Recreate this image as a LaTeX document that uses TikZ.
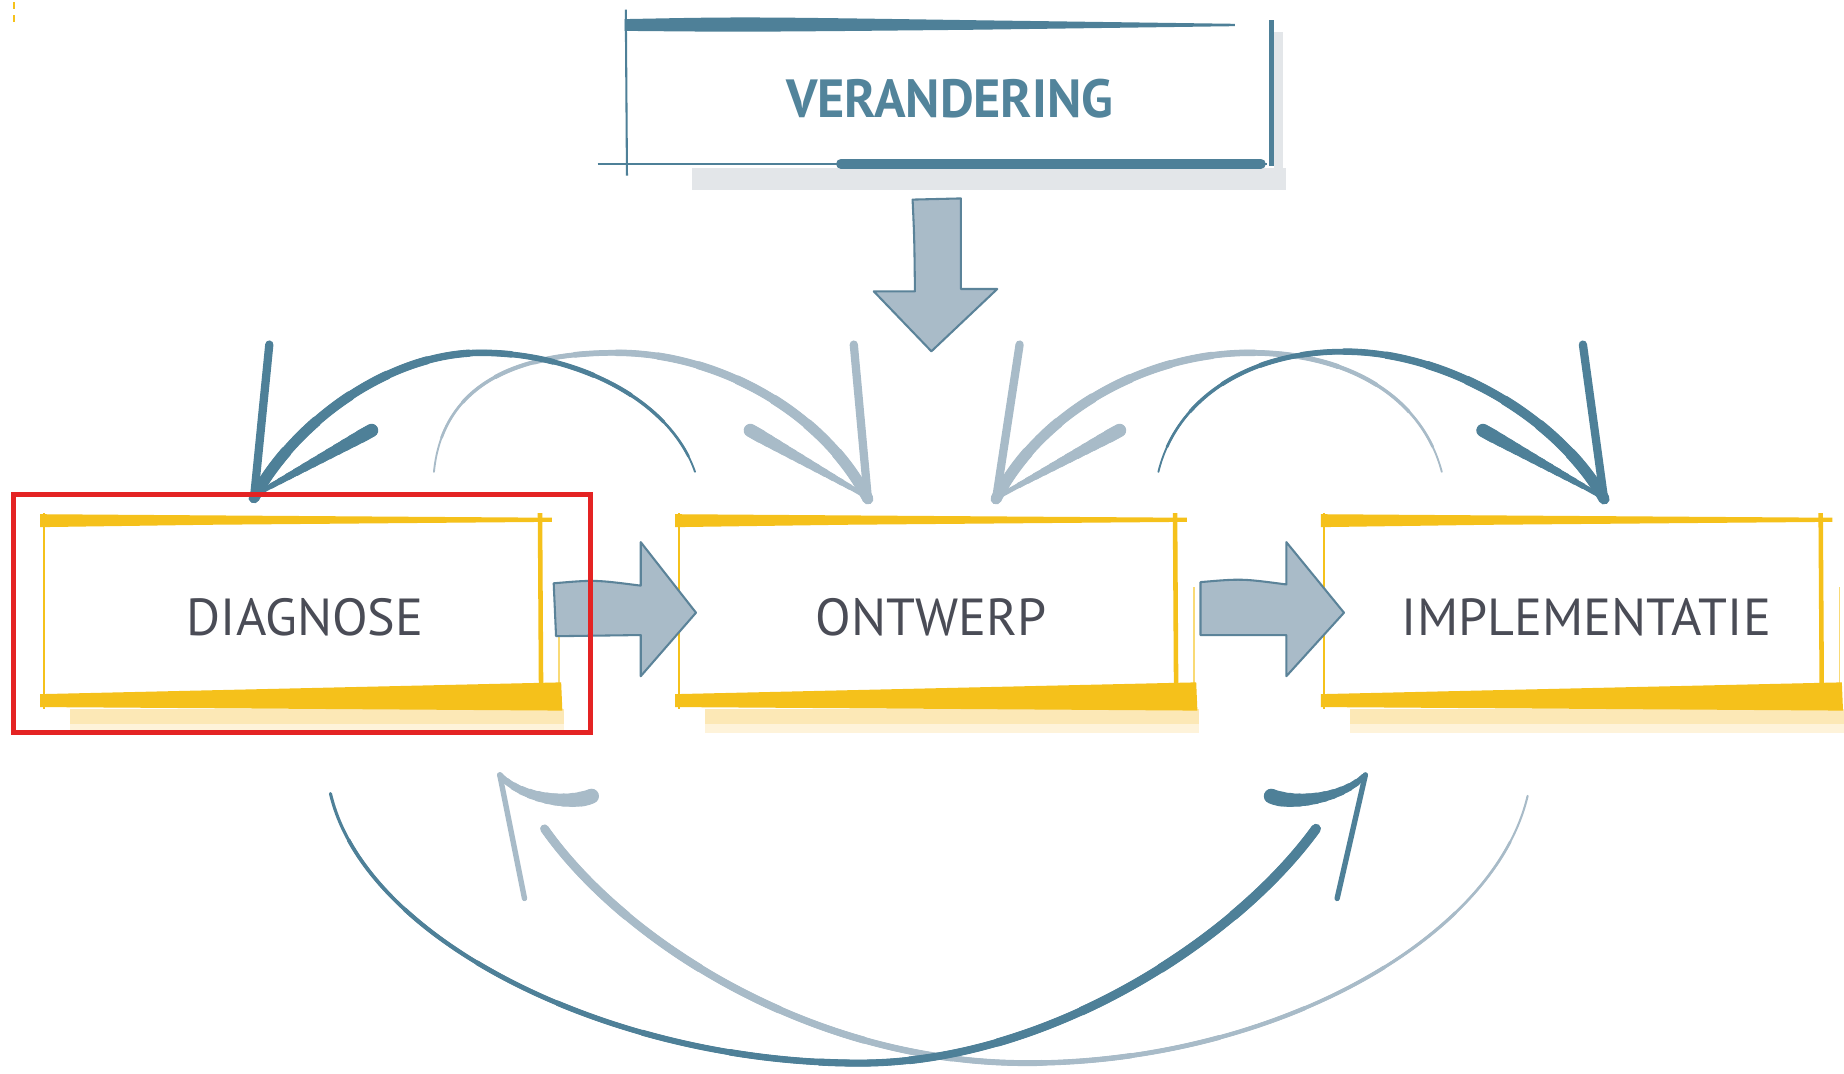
\documentclass[tikz,border=0pt]{standalone}
\usepackage{fontspec}
\setmainfont{PT Sans}
\usetikzlibrary{calc}
\definecolor{ylw}{HTML}{F5C11B}
\definecolor{yshd}{HTML}{FCE8B6}
\definecolor{yshdb}{HTML}{FEF3DA}
\definecolor{dteal}{HTML}{4E8098}
\definecolor{lblue}{HTML}{A8BBC8}
\definecolor{afill}{HTML}{A9BBC8}
\definecolor{aline}{HTML}{5B8399}
\definecolor{gshd}{HTML}{E3E6E9}
\definecolor{txt}{HTML}{4A4C56}
\definecolor{vtxt}{HTML}{52849B}
\definecolor{redbox}{HTML}{E42323}

% tapered stroke: #1 style, #2 min width (pt), #3 max width (pt), #4 approx length (pt), #5 path from thick end
\newcommand\taper[5]{%
  \draw[#1,line width=#2pt,line cap=round] #5;%
  \foreach \k in {1,...,12}{%
    \pgfmathsetmacro\tpw{#2+(#3-#2)*\k/12}\pgfmathsetmacro\tpl{(1-0.075*\k)*#4}%
    \draw[#1,line width=\tpw pt,line cap=round,dash pattern=on \tpl pt off 5000pt] #5;}%
}

% sketchy yellow frame around a phase node
\newcommand\sketchbox[1]{%
  \begin{scope}[shift={(#1.north west)}]
    \fill[yshdb] (22,166) rectangle (442,184);
    \fill[yshd] (22,164) rectangle (442,176);
    \draw[ylw,line width=0.5pt] (0,-3) -- (0,164);
    \fill[ylw] (-3,-2) -- (140,-1) -- (432,1) -- (432,4.5) -- (140,7) -- (-3,9) -- cycle;
    \draw[ylw,line width=1.1pt] (422,-3) -- (423,160);
    \draw[ylw!60,line width=0.35pt] (438,60) -- (438,150);
    \fill[ylw] (-3,151) -- (440,141) -- (441,165) -- (-3,162) -- cycle;
  \end{scope}}

\begin{document}
\begin{tikzpicture}[x=0.01cm,y=-0.01cm,
  phase/.style={minimum width=4.27cm,minimum height=1.58cm,inner sep=0pt,
    text height=0.43cm,text depth=0pt,
    font=\fontsize{12.6}{15}\selectfont,text=txt},
  vbox/.style={minimum width=5.49cm,minimum height=1.26cm,inner sep=0pt,
    text height=0.42cm,text depth=0pt,
    font=\bfseries\fontsize{13}{16}\selectfont,text=vtxt},
  blockarrow/.style={fill=afill,draw=aline,line width=0.5pt,line join=round},
  barb/.style={line cap=round,line join=round}]
\useasboundingbox (0,0) rectangle (1568,913);
\fill[white] (0,0) rectangle (1568,913);

% tiny yellow marks top-left
\draw[ylw,line width=0.6pt] (12,2) -- (12,8) (12,13) -- (12,19);

% nodes
\node[vbox] (v) at (807.5,79) {\scalebox{0.97}[1]{VERANDERING}};
\node[phase] (d) at (251.5,519) {\hspace*{0.16cm}DIAGNOSE};
\node[phase] (o) at (791.5,519) {ONTWERP};
\node[phase] (i) at (1340.5,519) {\hspace*{0.17cm}IMPLEMENTATIE};

% VERANDERING sketch frame
\begin{scope}[shift={(v.north west)}]
  \fill[gshd] (56,128) rectangle (561,146);
  \fill[gshd] (551,12) rectangle (559,146);
  \draw[dteal,line width=0.5pt] (0,-7) -- (1,134);
  \fill[dteal] (-1,1) .. controls (100,-1) .. (300,2) -- (518,5) -- (518,7) -- (300,10) .. controls (100,12) .. (-1,11) -- cycle;
  \draw[dteal,line width=1.1pt] (549,2) -- (549,126);
  \draw[dteal,line width=0.5pt] (-24,124) -- (545,124);
  \draw[dteal,line width=2.4pt,line cap=round] (183,124) -- (540,124);
\end{scope}

% phase frames
\sketchbox{d}
\sketchbox{o}
\sketchbox{i}

% down block arrow from VERANDERING
\begin{scope}[shift={(v.south)}]
  \filldraw[blockarrow] (-31.5,27) .. controls (-30,60) .. (-29.5,105) -- (-64.5,105) -- (-15.5,156) -- (40.5,103) -- (9.5,103) -- (9.5,26) -- cycle;
\end{scope}

% horizontal block arrows
\begin{scope}[shift={(d.east)}]
  \filldraw[blockarrow] (5,-23) .. controls (40,-26) .. (79,-21) -- (79,-58) -- (126,2) -- (79,56) -- (79,21) -- (7,22) -- cycle;
\end{scope}
\begin{scope}[shift={(o.east)}]
  \filldraw[blockarrow] (15,-24) .. controls (50,-27) .. (88,-22) -- (88,-58) -- (137,2) -- (88,56) -- (88,21) -- (15,21) -- cycle;
\end{scope}

% arc end coordinates
\coordinate (aE) at ($(d.north)+(-35.5,-16)$);
\coordinate (aS) at ($(o.north)+(-200.5,-38)$);
\coordinate (bE) at ($(o.north)+(-53.5,-15)$);
\coordinate (bS) at ($(d.north)+(117.5,-38)$);
\coordinate (cE) at ($(o.north)+(55.5,-15)$);
\coordinate (cS) at ($(i.north)+(-114.5,-38)$);
\coordinate (dE) at ($(i.north)+(23.5,-15)$);
\coordinate (dS) at ($(o.north)+(193.5,-38)$);
\coordinate (eE) at ($(i.south)+(-221.5,106)$);
\coordinate (eS) at ($(d.south)+(29.5,76)$);
\coordinate (fE) at ($(d.south)+(211.5,106)$);
\coordinate (fS) at ($(i.south)+(-41.5,78)$);

% light arcs (top)
\taper{lblue}{0.45}{2.7}{134}{(bE) .. controls (700,350) and (610,300) .. (524,300) .. controls (420,300) and (375,340) .. (bS)}
\draw[lblue,barb,line width=2pt] (726,293) -- (bE);
\taper{lblue}{1.2}{3.2}{30}{(638,366) -- (733,420)}
\taper{lblue}{0.45}{2.7}{137}{(cE) .. controls (885,350) and (975,300) .. (1063,300) .. controls (1150,300) and (1210,340) .. (cS)}
\draw[lblue,barb,line width=2pt] (867,293) -- (cE);
\taper{lblue}{1.2}{3.2}{30}{(952,366) -- (853,420)}

% dark arcs (top)
\taper{dteal}{0.45}{2.7}{137}{(aE) .. controls (250,360) and (330,300) .. (409,300) .. controls (490,300) and (570,340) .. (aS)}
\draw[dteal,barb,line width=2pt] (229,293) -- (aE);
\taper{dteal}{1.2}{3.2}{30}{(316,366) -- (222,418)}
\taper{dteal}{0.45}{2.7}{137}{(dE) .. controls (1325,355) and (1230,299) .. (1143,299) .. controls (1060,299) and (1000,340) .. (dS)}
\draw[dteal,barb,line width=2pt] (1346,293) -- (dE);
\taper{dteal}{1.2}{3.2}{30}{(1261,366) -- (1358,420)}

% bottom arcs
\taper{lblue}{0.5}{2.1}{290}{(fE) .. controls (530,800) and (690,904) .. (873,904) .. controls (1080,904) and (1270,800) .. (fS)}
\draw[lblue,barb,line width=1.3pt] (446,764) -- (425,659);
\taper{lblue}{1}{3.6}{28}{(503,677) .. controls (488,684) and (445,681) .. (425,659)}
\taper{dteal}{0.75}{2.4}{290}{(eE) .. controls (1050,800) and (890,904) .. (731,904) .. controls (520,904) and (310,800) .. (eS)}
\draw[dteal,barb,line width=1.3pt] (1137,764) -- (1161,659);
\taper{dteal}{1}{3.6}{28}{(1081,677) .. controls (1096,684) and (1140,681) .. (1161,659)}

% red highlight
\draw[redbox,line width=1.25pt] ($(d.north west)+(-26,-19)$) rectangle ($(d.south east)+(36,24)$);
\end{tikzpicture}
\end{document}
